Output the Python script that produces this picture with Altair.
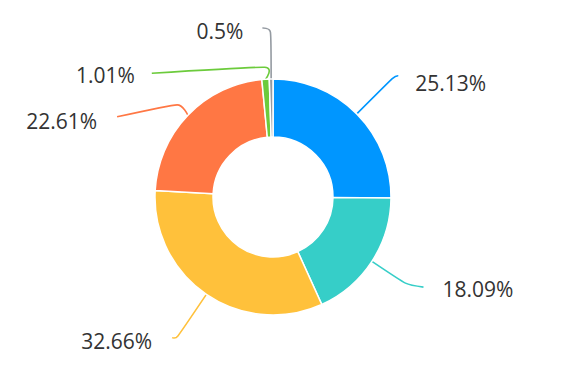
import altair as alt
import pandas as pd
import numpy as np

# ---- data ----
categories = ["A", "B", "C", "D", "E", "F"]
values = [25.13, 18.09, 32.66, 22.61, 1.01, 0.5]
labels = ["25.13%", "18.09%", "32.66%", "22.61%", "1.01%", "0.5%"]
colors = ["#0096FF", "#36CEC8", "#FFC13B", "#FF7744", "#6CCB3C", "#949AA1"]

# ---- layout (pixels) ----
W, H = 587, 367
CX, CY = 273, 197
R_OUT, R_IN = 118, 60
# per slice: elbow radius, end offset from elbow, label offset from end, label side
layout = {
    "A": dict(r1=168, end=(6, -3), lab=(17, 9), side="left"),
    "B": dict(r1=158, end=(18, 4), lab=(19, 4), side="left"),
    "C": dict(r1=168, end=(-6, 2), lab=(-20, 5), side="right"),
    "D": dict(r1=133, end=(-60, 12), lab=(-20, 6), side="right"),
    "E": dict(r1=130, end=(-113, 6), lab=(-17, 4), side="right"),
    "F": dict(r1=165, end=(-8, -4), lab=(-19, 5), side="right"),
}
line_widths = [1.6, 1.6, 1.6, 1.6, 1.6, 2.2]

vals = np.array(values)
cum = np.cumsum(vals)
mid = (cum - vals / 2) / vals.sum() * 2 * np.pi

df = pd.DataFrame({"slice": categories, "value": values, "idx": range(len(values)), "label": labels})

line_rows, text_rows = [], []
for i, c in enumerate(categories):
    L = layout[c]
    a = mid[i]
    sx, sy = CX + R_OUT * np.sin(a), CY - R_OUT * np.cos(a)
    ex, ey = CX + L["r1"] * np.sin(a), CY - L["r1"] * np.cos(a)
    fx, fy = ex + L["end"][0], ey + L["end"][1]
    for s, (px, py) in enumerate([(sx, sy), (ex, ey), (fx, fy)]):
        line_rows.append({"slice": c, "seq": s, "x": px, "y": py})
    text_rows.append({"slice": c, "label": labels[i], "x": fx + L["lab"][0], "y": fy + L["lab"][1], "side": L["side"]})

lines = pd.DataFrame(line_rows)
texts = pd.DataFrame(text_rows)

color_scale = alt.Scale(domain=categories, range=colors)
xs = alt.Scale(domain=[0, W], range=[0, W])
ys = alt.Scale(domain=[0, H], range=[0, H])

arc = alt.Chart(df).mark_arc(innerRadius=R_IN, outerRadius=R_OUT, stroke="white", strokeWidth=1.5).encode(
    theta=alt.Theta("value:Q", stack=True),
    order=alt.Order("idx:Q"),
    color=alt.Color("slice:N", scale=color_scale, legend=None),
    x=alt.value(CX),
    y=alt.value(CY),
)

leader = alt.Chart(lines).mark_line(interpolate="cardinal", tension=0.5).encode(
    x=alt.X("x:Q", scale=xs, axis=None),
    y=alt.Y("y:Q", scale=ys, axis=None),
    detail="slice:N",
    order="seq:Q",
    color=alt.Color("slice:N", scale=color_scale, legend=None),
    strokeWidth=alt.StrokeWidth("slice:N", scale=alt.Scale(domain=categories, range=line_widths), legend=None),
)

txt_style = dict(baseline="middle", font="Open Sans", fontSize=21, color="#333333")

txt_left = alt.Chart(texts).transform_filter(alt.datum.side == "left").mark_text(
    align="left", **txt_style
).encode(x=alt.X("x:Q", scale=xs, axis=None), y=alt.Y("y:Q", scale=ys, axis=None), text="label:N")

txt_right = alt.Chart(texts).transform_filter(alt.datum.side == "right").mark_text(
    align="right", **txt_style
).encode(x=alt.X("x:Q", scale=xs, axis=None), y=alt.Y("y:Q", scale=ys, axis=None), text="label:N")

chart = alt.layer(leader, arc, txt_left, txt_right).properties(
    width=W, height=H, autosize=alt.AutoSizeParams(type="none"), padding=0
).configure_view(strokeWidth=0)

chart.save("out.html", embed_options={"renderer": "svg", "actions": False})
